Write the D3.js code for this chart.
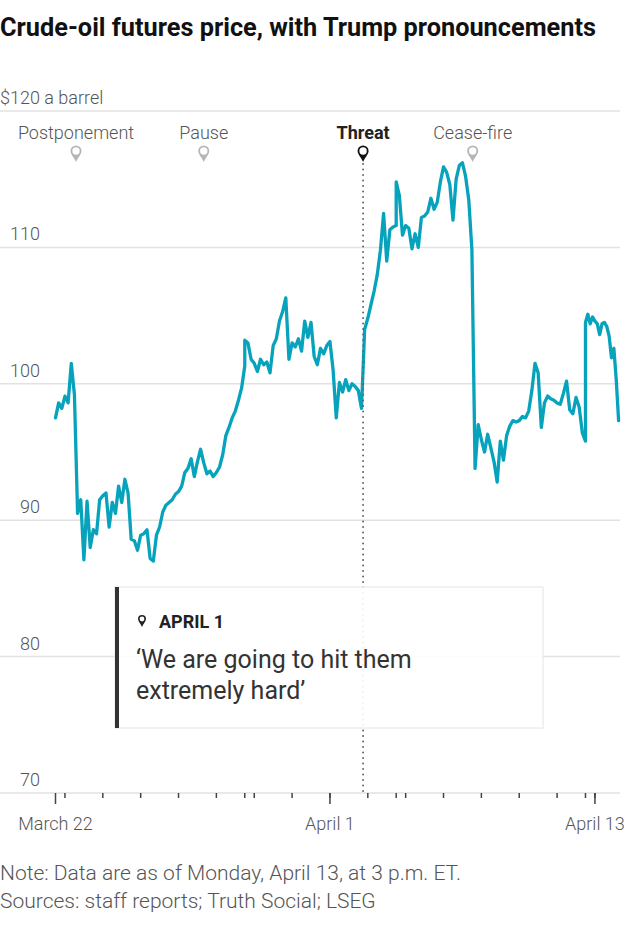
<!DOCTYPE html>
<html>
<head>
<meta charset="utf-8">
<script src="https://cdn.jsdelivr.net/npm/d3@7"></script>
<style>
  body { margin: 0; background: #fff; }
  svg { display: block; font-family: Roboto, "Noto Sans", sans-serif; }
</style>
</head>
<body>
<div id="chart"></div>
<script>
// trading sessions, ET clock (written as UTC so no DST shift happens)
const sessionStarts = ["2026-03-22T18:00Z", "2026-03-29T18:00Z", "2026-04-05T18:00Z", "2026-04-12T18:00Z"];
const sessionEnds   = ["2026-03-27T18:00Z", "2026-04-02T18:00Z", "2026-04-10T18:00Z", "2026-04-13T15:00Z"];
const stepHours = [2, 2, 2, 1.5];

// $ a barrel
const pricesWeek1 = [
  97.5, 98.6, 98.2, 99.1, 98.6, 101.5, 99.2, 90.5, 91.5, 87.1,
  91.4, 88.0, 89.3, 89.0, 91.5, 91.8, 92.0, 89.5, 91.3, 90.5,
  92.5, 91.3, 93.0, 92.0, 88.6, 88.5, 87.8, 88.9, 89.0, 89.3,
  87.2, 87.0, 88.9, 89.5, 90.6, 91.1, 91.3, 91.5, 91.9, 92.1,
  92.5, 93.5, 93.8, 94.5, 93.2, 94.3, 95.2, 94.2, 93.4, 93.6,
  93.2, 93.5, 93.9, 94.8, 96.2, 96.8, 97.5, 98.0, 98.8, 99.7,
  101.3
];
const pricesWeek2 = [
  103.2, 103.0, 101.8, 101.5, 100.9, 101.8, 101.4, 101.6, 100.8, 102.8,
  103.3, 104.6, 105.3, 106.3, 101.8, 103.0, 102.7, 103.3, 102.4, 104.6,
  103.4, 104.5, 102.0, 101.4, 102.6, 102.2, 102.8, 103.1, 101.0, 97.5,
  100.1, 99.4, 100.3, 99.5, 100.0, 99.8, 99.5, 98.2, 104.0, 104.8,
  105.8, 106.8, 108.0, 109.8, 112.5, 109.0, 111.3, 111.5, 111.6
];
const pricesWeek3 = [
  114.8, 113.8, 110.9, 111.6, 111.4, 109.9, 111.0, 110.0, 112.2, 112.3,
  112.6, 113.6, 112.8, 113.3, 114.8, 115.9, 115.5, 114.6, 112.0, 115.0,
  116.0, 116.2, 115.2, 113.5, 109.8, 93.8, 97.0, 95.9, 95.0, 96.3,
  95.3, 94.3, 92.8, 95.8, 94.4, 96.2, 96.9, 97.3, 97.2, 97.3,
  97.6, 97.5, 98.0, 99.5, 101.5, 100.8, 96.8, 98.6, 99.1, 98.9,
  98.8, 98.6, 98.5, 99.3, 100.2, 98.1, 97.8, 99.0, 98.3, 96.4,
  95.8
];
const pricesWeek4 = [
  104.5, 105.1, 104.4, 104.9, 104.6, 104.4, 103.6, 104.4, 104.5, 104.2,
  103.5, 101.9, 102.6, 100.3, 97.3
];

const yTicks = [70, 80, 90, 100, 110, 120];
const tickDays = ["2026-03-23", "2026-03-24", "2026-03-25", "2026-03-26", "2026-03-27",
  "2026-03-30", "2026-03-31", "2026-04-01", "2026-04-02",
  "2026-04-06", "2026-04-07", "2026-04-08", "2026-04-09", "2026-04-10", "2026-04-13"];
const labelTimes = ["2026-03-22T18:00Z", "2026-04-01T00:00Z", "2026-04-13T00:00Z"];
const labelNames = ["March 22", "April 1", "April 13"];

const eventNames = ["Postponement", "Pause", "Threat", "Cease-fire"];
const eventTimes = ["2026-03-23T07:00Z", "2026-03-26T16:00Z", "2026-04-01T21:00Z", "2026-04-07T18:30Z"];
const highlight = "Threat";

const noteDate = "APRIL 1";
const noteQuote = ["‘We are going to hit them", "extremely hard’"];
const footer = ["Note: Data are as of Monday, April 13, at 3 p.m. ET.", "Sources: staff reports; Truth Social; LSEG"];

const width = 632, height = 942;
const plot = { left: 55.5, right: 618.6, top: 111, bottom: 793 };

const svg = d3.select("#chart").append("svg")
  .attr("width", width)
  .attr("height", height);

// x: a time scale that skips the weekend (and Good Friday) gaps
const starts = sessionStarts.map(d => new Date(d));
const ends = sessionEnds.map(d => new Date(d));
const hours = starts.map((s, i) => (ends[i] - s) / 36e5);
const pxPerHour = (plot.right - plot.left) / d3.sum(hours);
const dom = [], rng = [];
let acc = plot.left;
starts.forEach((s, i) => {
  dom.push(s, ends[i]);
  rng.push(acc, acc += hours[i] * pxPerHour);
});
const x = d3.scaleUtc().domain(dom).range(rng);

const y = d3.scaleLinear()
  .domain([70, 120])
  .range([plot.bottom, plot.top]);

const points = [pricesWeek1, pricesWeek2, pricesWeek3, pricesWeek4].flatMap((vals, i) =>
  vals.map((v, k) => ({ t: new Date(+starts[i] + k * stepHours[i] * 36e5), v })));

// title
svg.append("text")
  .attr("x", 0).attr("y", 36)
  .attr("font-size", 25.3).attr("font-weight", 700).attr("fill", "#111")
  .text("Crude-oil futures price, with Trump pronouncements");

// gridlines + y labels
svg.append("g")
  .selectAll("line")
  .data(yTicks)
  .join("line")
    .attr("x1", 0).attr("x2", 620)
    .attr("y1", d => y(d)).attr("y2", d => y(d))
    .attr("stroke", "#e2e2e2").attr("stroke-width", 1.5);

svg.append("g")
  .attr("font-size", 18).attr("font-weight", 300).attr("fill", "#555")
  .selectAll("text")
  .data(yTicks)
  .join("text")
    .attr("x", d => d === 120 ? 0 : 40)
    .attr("y", d => y(d) - 7)
    .attr("text-anchor", d => d === 120 ? "start" : "end")
    .text(d => d === 120 ? "$120 a barrel" : d);

// x ticks
const shortTicks = tickDays.map(d => new Date(d + "T00:00Z")).concat(starts.slice(1));
const longTicks = labelTimes.map(d => new Date(d));
const xAxis = svg.append("g").attr("stroke", "#444").attr("stroke-width", 1.5);
xAxis.selectAll(".s")
  .data(shortTicks)
  .join("line")
    .attr("x1", d => x(d)).attr("x2", d => x(d))
    .attr("y1", plot.bottom).attr("y2", plot.bottom + 5);
xAxis.selectAll(".l")
  .data(longTicks)
  .join("line")
    .attr("x1", d => x(d)).attr("x2", d => x(d))
    .attr("y1", plot.bottom).attr("y2", plot.bottom + 11);

svg.append("g")
  .attr("font-size", 18).attr("font-weight", 300).attr("fill", "#555")
  .attr("text-anchor", "middle")
  .selectAll("text")
  .data(longTicks)
  .join("text")
    .attr("x", d => x(d))
    .attr("y", 830)
    .text((d, i) => labelNames[i]);

// price line
svg.append("path")
  .datum(points)
  .attr("fill", "none")
  .attr("stroke", "#07a2bc")
  .attr("stroke-width", 3.3)
  .attr("stroke-linejoin", "round")
  .attr("stroke-linecap", "round")
  .attr("d", d3.line().x(d => x(d.t)).y(d => y(d.v)));

// events
function pinPath(r) {
  const h = r * 2;
  return `M0,${h} C${-r * 0.3},${h * 0.62} ${-r},${r * 0.6} ${-r},0 A${r},${r} 0 1 1 ${r},0 C${r},${r * 0.6} ${r * 0.3},${h * 0.62} 0,${h} Z`;
}
const evTimes = eventTimes.map(d => new Date(d));
const hx = x(evTimes[eventNames.indexOf(highlight)]);

svg.append("line")
  .attr("x1", hx).attr("x2", hx)
  .attr("y1", 164).attr("y2", plot.bottom)
  .attr("stroke", "#666").attr("stroke-width", 2)
  .attr("stroke-dasharray", "0.1,5.4").attr("stroke-linecap", "round");

const ev = svg.append("g")
  .selectAll("g")
  .data(eventNames)
  .join("g")
    .attr("transform", (d, i) => `translate(${x(evTimes[i])},0)`);
ev.append("text")
  .attr("y", 139)
  .attr("text-anchor", "middle")
  .attr("font-size", 18)
  .attr("font-weight", d => d === highlight ? 700 : 300)
  .attr("fill", d => d === highlight ? "#222" : "#555")
  .text(d => d);
ev.append("path")
  .attr("transform", "translate(0,151)")
  .attr("d", pinPath(5.5))
  .attr("fill", d => d === highlight ? "#111" : "#b5b5b5");
ev.append("circle")
  .attr("cy", 151).attr("r", 3.7)
  .attr("fill", "#fff");

// annotation box
const box = svg.append("g").attr("transform", "translate(115,587)");
box.append("rect")
  .attr("width", 428).attr("height", 141)
  .attr("fill", "rgba(255,255,255,0.9)")
  .attr("stroke", "#e4e4e4").attr("stroke-width", 1);
box.append("rect")
  .attr("width", 4).attr("height", 141)
  .attr("fill", "#333");
box.append("path")
  .attr("transform", "translate(27,32)")
  .attr("d", pinPath(4))
  .attr("fill", "#222");
box.append("circle")
  .attr("cx", 27).attr("cy", 32).attr("r", 2.4)
  .attr("fill", "#fff");
box.append("text")
  .attr("x", 44).attr("y", 41)
  .attr("font-size", 18).attr("font-weight", 700).attr("fill", "#222")
  .text(noteDate);
box.append("text")
  .attr("font-size", 25).attr("font-weight", 400).attr("fill", "#333")
  .selectAll("tspan")
  .data(noteQuote)
  .join("tspan")
    .attr("x", 21)
    .attr("y", (d, i) => 81 + i * 30.6)
    .text(d => d);

// footer
svg.append("g")
  .attr("font-size", 21).attr("font-weight", 300).attr("fill", "#555")
  .selectAll("text")
  .data(footer)
  .join("text")
    .attr("x", 0)
    .attr("y", (d, i) => 880 + i * 28)
    .text(d => d);
</script>
</body>
</html>
